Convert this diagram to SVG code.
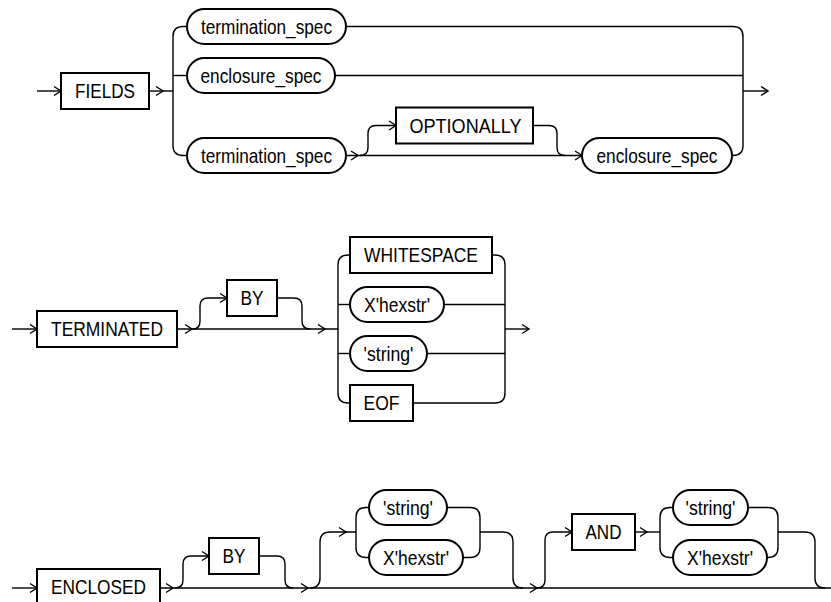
<svg xmlns="http://www.w3.org/2000/svg" xmlns:xlink="http://www.w3.org/1999/xlink" width="831" height="602" viewBox="0 0 831 602">
<style>
.bg{fill:#fff}
.line{fill:none;stroke:#000;stroke-width:1.4}
.chev{fill:none;stroke:#000;stroke-width:1.4}
.box{fill:#fff;stroke:#000;stroke-width:2}
.pill{fill:#fff;stroke:#000;stroke-width:2}
text{font-family:"Liberation Sans Narrow","Liberation Sans",Arial,sans-serif;font-size:21px;fill:#000;text-anchor:middle}
</style>
<defs>
<path id="ch" class="chev" d="M-7,-4.5 L0,0 L-7,4.5"/>
</defs>
<rect class="bg" x="0" y="0" width="831" height="602"/>

<g id="connectors">
<!-- diagram 1 -->
<path class="line" d="M37,91 H61"/>
<path class="line" d="M149,91 H173"/>
<path class="line" d="M187,26.5 H183 Q173,26.5 173,36.5 V145.5 Q173,155.5 183,155.5 H187"/>
<path class="line" d="M173,75.5 H187"/>
<path class="line" d="M346,26.5 H733 Q743,26.5 743,36.5 V145.5 Q743,155.5 733,155.5 H732"/>
<path class="line" d="M335,75.5 H743"/>
<path class="line" d="M743,91 H768"/>
<path class="line" d="M346,155.5 H582"/>
<path class="line" d="M360,155.5 Q368,155.5 368,147.5 V133.5 Q368,125.5 376,125.5 H396"/>
<path class="line" d="M533,125.5 H549 Q557,125.5 557,133.5 V147.5 Q557,155.5 565,155.5"/>
<use xlink:href="#ch" x="61" y="91"/>
<use xlink:href="#ch" x="163" y="91"/>
<use xlink:href="#ch" x="768" y="91"/>
<use xlink:href="#ch" x="358" y="155.5"/>
<use xlink:href="#ch" x="396" y="125.5"/>
<use xlink:href="#ch" x="582" y="155.5"/>
<!-- diagram 2 -->
<path class="line" d="M12,329 H37"/>
<path class="line" d="M177,329 H338"/>
<path class="line" d="M193,329 Q200,329 200,321 V306 Q200,298 208,298 H227"/>
<path class="line" d="M277,298 H294 Q302,298 302,306 V321 Q302,329 310,329"/>
<path class="line" d="M350,255 H348 Q338,255 338,265 V393 Q338,403 348,403 H350"/>
<path class="line" d="M338,304.5 H350"/>
<path class="line" d="M338,353.5 H350"/>
<path class="line" d="M492,255 H495 Q505,255 505,265 V393 Q505,403 495,403 H413"/>
<path class="line" d="M444,304.5 H505"/>
<path class="line" d="M427,353.5 H505"/>
<path class="line" d="M505,329 H529"/>
<use xlink:href="#ch" x="37" y="329"/>
<use xlink:href="#ch" x="192" y="329"/>
<use xlink:href="#ch" x="227" y="298"/>
<use xlink:href="#ch" x="325" y="329"/>
<use xlink:href="#ch" x="529" y="329"/>
<!-- diagram 3 -->
<path class="line" d="M12,588 H37"/>
<path class="line" d="M160,588 H831"/>
<path class="line" d="M175,588 Q183,588 183,580 V564 Q183,556 191,556 H209"/>
<path class="line" d="M259,556 H277 Q285,556 285,564 V580 Q285,588 293,588"/>
<path class="line" d="M310,588 Q320,588 320,578 V542 Q320,532 330,532 H356"/>
<path class="line" d="M369,507.5 H366 Q356,507.5 356,517.5 V547.5 Q356,557.5 366,557.5 H369"/>
<path class="line" d="M447,507.5 H470 Q480,507.5 480,517.5 V547.5 Q480,557.5 470,557.5 H463"/>
<path class="line" d="M480,532 H503 Q513,532 513,542 V578 Q513,588 523,588"/>
<path class="line" d="M537,588 Q545,588 545,580 V540 Q545,532 553,532 H572"/>
<path class="line" d="M635,532 H660"/>
<path class="line" d="M673,507.5 H670 Q660,507.5 660,517.5 V547.5 Q660,557.5 670,557.5 H673"/>
<path class="line" d="M748,507.5 H768 Q778,507.5 778,517.5 V547.5 Q778,557.5 768,557.5 H767"/>
<path class="line" d="M778,532 H805 Q815,532 815,542 V578 Q815,588 825,588"/>
<use xlink:href="#ch" x="37" y="588"/>
<use xlink:href="#ch" x="173" y="588"/>
<use xlink:href="#ch" x="209" y="556"/>
<use xlink:href="#ch" x="308" y="588"/>
<use xlink:href="#ch" x="346" y="532"/>
<use xlink:href="#ch" x="537" y="588"/>
<use xlink:href="#ch" x="572" y="532"/>
<use xlink:href="#ch" x="647" y="532"/>
</g>

<!-- diagram 1 nodes -->
<g id="fields"><rect class="box" x="61" y="73" width="88" height="36"/><text x="105" y="98" textLength="60" lengthAdjust="spacingAndGlyphs">FIELDS</text></g>
<g id="termination_spec_1"><rect class="pill" x="187" y="9" width="159" height="35" rx="17.5"/><text x="266.5" y="33.5" textLength="131" lengthAdjust="spacingAndGlyphs">termination_spec</text></g>
<g id="enclosure_spec_1"><rect class="pill" x="187" y="58" width="148" height="35" rx="17.5"/><text x="261" y="82.5" textLength="121" lengthAdjust="spacingAndGlyphs">enclosure_spec</text></g>
<g id="termination_spec_2"><rect class="pill" x="187" y="138" width="159" height="35" rx="17.5"/><text x="266.5" y="162.5" textLength="131" lengthAdjust="spacingAndGlyphs">termination_spec</text></g>
<g id="optionally"><rect class="box" x="396" y="107.5" width="137" height="36"/><text x="465.5" y="133" textLength="112" lengthAdjust="spacingAndGlyphs">OPTIONALLY</text></g>
<g id="enclosure_spec_2"><rect class="pill" x="582" y="138" width="150" height="35" rx="17.5"/><text x="657" y="162.5" textLength="121" lengthAdjust="spacingAndGlyphs">enclosure_spec</text></g>

<!-- diagram 2 nodes -->
<g id="terminated"><rect class="box" x="37" y="311" width="140" height="36"/><text x="107" y="336" textLength="112" lengthAdjust="spacingAndGlyphs">TERMINATED</text></g>
<g id="by_1"><rect class="box" x="227" y="280" width="50" height="36"/><text x="252" y="305" textLength="23" lengthAdjust="spacingAndGlyphs">BY</text></g>
<g id="whitespace"><rect class="box" x="350" y="237" width="142" height="36"/><text x="421" y="262" textLength="114" lengthAdjust="spacingAndGlyphs">WHITESPACE</text></g>
<g id="hexstr_1"><rect class="pill" x="350" y="287" width="94" height="35" rx="17.5"/><text x="397" y="311.5" textLength="66" lengthAdjust="spacingAndGlyphs">X'hexstr'</text></g>
<g id="string_1"><rect class="pill" x="350" y="336" width="77" height="35" rx="17.5"/><text x="388.5" y="360.5" textLength="50" lengthAdjust="spacingAndGlyphs">'string'</text></g>
<g id="eof"><rect class="box" x="350" y="385" width="63" height="36"/><text x="381.5" y="410" textLength="36" lengthAdjust="spacingAndGlyphs">EOF</text></g>

<!-- diagram 3 nodes -->
<g id="enclosed"><rect class="box" x="37" y="569" width="123" height="36"/><text x="98.5" y="594" textLength="95" lengthAdjust="spacingAndGlyphs">ENCLOSED</text></g>
<g id="by_2"><rect class="box" x="209" y="538" width="50" height="36"/><text x="234" y="563" textLength="23" lengthAdjust="spacingAndGlyphs">BY</text></g>
<g id="string_2"><rect class="pill" x="369" y="490" width="78" height="35" rx="17.5"/><text x="408" y="514.5" textLength="50" lengthAdjust="spacingAndGlyphs">'string'</text></g>
<g id="hexstr_2"><rect class="pill" x="369" y="540" width="94" height="35" rx="17.5"/><text x="416" y="564.5" textLength="66" lengthAdjust="spacingAndGlyphs">X'hexstr'</text></g>
<g id="and"><rect class="box" x="572" y="514" width="63" height="36"/><text x="603.5" y="539" textLength="36" lengthAdjust="spacingAndGlyphs">AND</text></g>
<g id="string_3"><rect class="pill" x="673" y="490" width="75" height="35" rx="17.5"/><text x="710.5" y="514.5" textLength="50" lengthAdjust="spacingAndGlyphs">'string'</text></g>
<g id="hexstr_3"><rect class="pill" x="673" y="540" width="94" height="35" rx="17.5"/><text x="720" y="564.5" textLength="66" lengthAdjust="spacingAndGlyphs">X'hexstr'</text></g>
</svg>
